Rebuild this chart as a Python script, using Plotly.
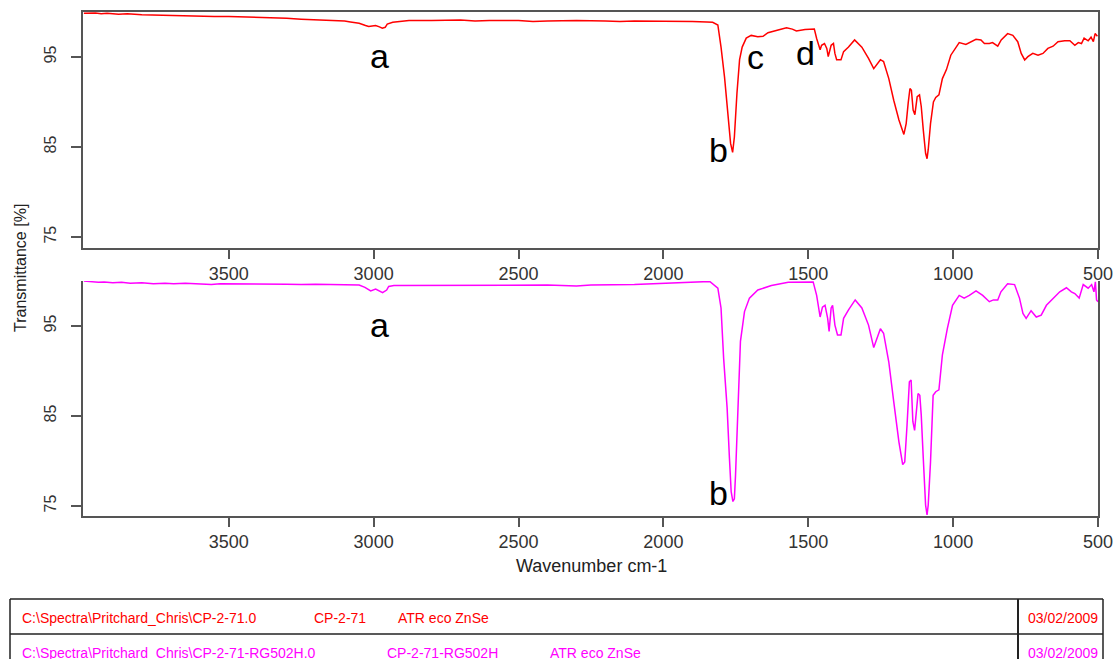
import plotly.graph_objects as go

# ---- FTIR spectra: wavenumber (cm-1) and transmittance (%) ----
wn_cp271 = [4000, 3960, 3940, 3920, 3880, 3850, 3800, 3750, 3700, 3650, 3600, 3550,
            3500, 3450, 3400, 3375, 3300, 3250, 3200, 3144, 3100, 3080, 3050, 3028,
            3017, 3005, 2993, 2980, 2970, 2960, 2953, 2934, 2900, 2878, 2800, 2700,
            2650, 2600, 2500, 2450, 2400, 2300, 2200, 2150, 2100, 2000, 1950, 1900,
            1850, 1830, 1812, 1801, 1789, 1778, 1768, 1761, 1755, 1746, 1737, 1728,
            1714, 1697, 1674, 1656, 1639, 1604, 1575, 1555, 1541, 1511, 1479, 1471,
            1459, 1454, 1444, 1436, 1431, 1421, 1413, 1408, 1402, 1387, 1378, 1361,
            1340, 1315, 1292, 1274, 1251, 1240, 1222, 1205, 1187, 1170, 1162, 1155,
            1149, 1144, 1138, 1132, 1124, 1116, 1110, 1103, 1095, 1090, 1086, 1078,
            1068, 1060, 1049, 1037, 1023, 1008, 991, 979, 956, 921, 904, 892, 875,
            864, 846, 834, 812, 794, 777, 765, 753, 742, 725, 707, 690, 673, 655,
            638, 615, 597, 580, 568, 557, 548, 534, 524, 516, 510, 502]
t_cp271 = [99.85, 99.9, 99.8, 99.85, 99.75, 99.8, 99.7, 99.65, 99.6, 99.6, 99.55, 99.5,
           99.5, 99.45, 99.45, 99.4, 99.3, 99.2, 99.15, 99.1, 99.0, 98.9, 98.75, 98.5,
           98.4, 98.45, 98.5, 98.35, 98.2, 98.3, 98.65, 98.85, 98.95, 99.05, 99.05, 99.1,
           99.0, 99.05, 99.05, 98.95, 99.0, 99.05, 99.0, 98.95, 99.0, 99.0, 98.95, 98.95,
           98.9, 98.85, 98.56, 96.1, 92.8, 89.1, 85.4, 84.4, 86.1, 91.0, 94.7, 96.1,
           97.1, 97.4, 97.25, 97.3, 97.7, 98.0, 98.25, 98.1, 97.9, 98.05, 98.1, 97.05,
           95.8, 96.3, 96.5, 95.95, 95.05, 96.3, 96.5, 95.4, 94.7, 94.7, 95.6, 96.1,
           96.9, 96.1, 94.85, 93.7, 94.7, 94.5, 92.6, 90.2, 88.0, 86.4, 87.6, 89.9,
           91.5, 91.3, 89.1, 88.6, 90.6, 90.8, 89.5, 86.9, 84.3, 83.7, 84.7, 87.6,
           90.0, 90.5, 90.8, 92.6, 93.6, 95.2, 96.1, 96.6, 96.4, 96.97, 96.9, 96.5, 96.5,
           96.6, 96.2, 96.9, 97.6, 97.4, 96.7, 95.4, 94.67, 95.04, 95.4, 95.2, 95.4, 95.96, 96.2,
           96.7, 96.8, 96.8, 96.3, 96.6, 96.5, 97.1, 96.8, 97.2, 96.7, 97.6, 97.3]

wn_rg502h = [4000, 3980, 3950, 3930, 3900, 3870, 3840, 3800, 3760, 3720, 3690, 3650,
             3600, 3560, 3530, 3500, 3400, 3300, 3250, 3200, 3150, 3100, 3050, 3030,
             3010, 2993, 2980, 2969, 2955, 2948, 2930, 2900, 2850, 2600, 2400, 2300,
             2250, 2100, 2000, 1950, 1900, 1840, 1812, 1801, 1792, 1780, 1772, 1766,
             1760, 1755, 1751, 1743, 1734, 1720, 1703, 1674, 1627, 1569, 1483, 1471,
             1459, 1451, 1442, 1433, 1428, 1421, 1416, 1408, 1399, 1387, 1378, 1361,
             1338, 1315, 1292, 1274, 1251, 1240, 1222, 1205, 1187, 1174, 1167, 1159,
             1151, 1145, 1139, 1133, 1126, 1121, 1115, 1110, 1103, 1095, 1090, 1086,
             1078, 1069, 1060, 1049, 1037, 1020, 1002, 979, 962, 944, 921, 898, 875,
             861, 846, 835, 812, 788, 771, 759, 748, 731, 713, 696, 678, 655, 632,
             609, 592, 580, 565, 551, 534, 522, 514, 509, 505, 500]
t_rg502h = [100.0, 99.95, 99.85, 99.9, 99.8, 99.85, 99.75, 99.8, 99.7, 99.75, 99.7, 99.75,
            99.7, 99.6, 99.7, 99.7, 99.7, 99.65, 99.6, 99.65, 99.6, 99.6, 99.55, 99.3,
            98.9, 99.1, 98.9, 98.7, 99.0, 99.4, 99.5, 99.5, 99.5, 99.55, 99.55, 99.45,
            99.55, 99.6, 99.75, 99.85, 99.9, 99.95, 99.2, 97.0, 91.4, 85.9, 80.3, 76.6,
            75.5, 75.8, 78.4, 85.9, 93.3, 96.6, 98.1, 99.0, 99.5, 99.85, 99.9, 98.4,
            96.0, 97.1, 97.3, 95.85, 94.4, 97.0, 97.3, 95.1, 94.0, 94.0, 95.85, 96.8,
            97.9, 97.0, 95.1, 92.6, 94.7, 94.2, 91.0, 86.6, 82.1, 79.6, 79.9, 84.0,
            88.8, 89.0, 84.4, 83.4, 85.9, 87.5, 87.3, 85.1, 80.3, 75.1, 74.0, 75.1,
            79.9, 87.3, 87.7, 87.9, 91.8, 94.7, 97.3, 98.4, 98.1, 98.4, 98.9, 98.4, 97.7,
            97.9, 97.9, 98.8, 99.7, 99.6, 98.1, 96.4, 95.85, 96.7, 96.0, 96.2, 97.3, 98.0, 98.8,
            99.25, 98.8, 98.6, 98.1, 99.6, 99.2, 99.6, 98.8, 99.9, 97.9, 97.7]

x_ticks = [3500, 3000, 2500, 2000, 1500, 1000, 500]
y_ticks = [75, 85, 95]

# band labels: (text, wavenumber, transmittance)
bands_top = [("a", 2980, 95.1), ("b", 1810, 84.65), ("c", 1681, 95.0), ("d", 1511, 95.4)]
bands_bottom = [("a", 2980, 95.1), ("b", 1810, 76.4)]

# sample table rows
table_rows = [
    ("C:\\Spectra\\Pritchard_Chris\\CP-2-71.0", "CP-2-71", "ATR eco ZnSe", "03/02/2009"),
    ("C:\\Spectra\\Pritchard_Chris\\CP-2-71-RG502H.0", "CP-2-71-RG502H", "ATR eco ZnSe", "03/02/2009"),
]
row_colors = ["#ff0000", "#ff00ff"]

W, H = 1117, 659
FONT = "Arial, Liberation Sans, sans-serif"


def px_x(p):
    return p / W


def px_y(p):
    return 1 - p / H


fig = go.Figure()
fig.add_trace(go.Scatter(x=wn_cp271, y=t_cp271, mode="lines",
                         line=dict(color="#ff0000", width=1.5),
                         xaxis="x", yaxis="y", showlegend=False))
fig.add_trace(go.Scatter(x=wn_rg502h, y=t_rg502h, mode="lines",
                         line=dict(color="#ff00ff", width=1.5),
                         xaxis="x2", yaxis="y2", showlegend=False))

# fixed margins: labels may sit at the page edge without shrinking the plot
axis_common = dict(showgrid=False, zeroline=False, showline=True, automargin=False,
                   linecolor="#555555", linewidth=1.5, ticks="outside",
                   tickcolor="#555555", tickwidth=1.5)
xfont = dict(family=FONT, size=18, color="#333333")
yfont = dict(family=FONT, size=16, color="#333333")

xdom = [px_x(83), px_x(1098)]
fig.update_layout(
    width=W, height=H, autosize=False,
    margin=dict(l=0, r=0, t=0, b=0),
    paper_bgcolor="white", plot_bgcolor="white",
    xaxis=dict(domain=xdom, range=[4003, 500], tickvals=x_ticks, ticklen=9,
               tickfont=xfont, mirror=True, anchor="y", **axis_common),
    yaxis=dict(domain=[px_y(248), px_y(12)], range=[73.78, 100.0],
               tickvals=y_ticks, ticklen=10, tickangle=-90, tickfont=yfont,
               ticklabelstandoff=9, mirror=True, anchor="x", **axis_common),
    xaxis2=dict(domain=xdom, range=[4003, 500], tickvals=x_ticks, ticklen=9,
                tickfont=xfont, mirror=False, anchor="y2", **axis_common),
    yaxis2=dict(domain=[px_y(516), px_y(281)], range=[73.89, 100.0],
                tickvals=y_ticks, ticklen=10, tickangle=-90, tickfont=yfont,
                ticklabelstandoff=9, mirror=True, anchor="x2", **axis_common),
)

ann = []
for txt, wn, t in bands_top:
    ann.append(dict(text=txt, x=wn, y=t, xref="x", yref="y", showarrow=False,
                    xanchor="center", yanchor="middle",
                    font=dict(family=FONT, size=34, color="black")))
for txt, wn, t in bands_bottom:
    ann.append(dict(text=txt, x=wn, y=t, xref="x2", yref="y2", showarrow=False,
                    xanchor="center", yanchor="middle",
                    font=dict(family=FONT, size=34, color="black")))

# axis titles
ann.append(dict(text="Wavenumber cm-1", x=px_x(591), y=px_y(566), xref="paper", yref="paper",
                xanchor="center", yanchor="middle", showarrow=False,
                font=dict(family=FONT, size=18, color="#222222")))
ann.append(dict(text="Transmittance [%]", x=px_x(20), y=px_y(268), xref="paper", yref="paper",
                xanchor="center", yanchor="middle", showarrow=False, textangle=-90,
                font=dict(family=FONT, size=16, color="#222222")))

# table text
col_x = [[20, 312, 396, 1026], [20, 385, 548, 1026]]
row_y = [618, 653]
for r, (row, color) in enumerate(zip(table_rows, row_colors)):
    for c, cell in enumerate(row):
        ann.append(dict(text=cell, x=px_x(col_x[r][c]), y=px_y(row_y[r]),
                        xref="paper", yref="paper", xanchor="left", yanchor="middle",
                        showarrow=False, font=dict(family=FONT, size=14, color=color)))

# table frame, kept inside the page
tline = dict(color="#222222", width=1.5)
right_edge = 1103
shapes = [
    dict(type="line", xref="paper", yref="paper", x0=px_x(10), x1=px_x(right_edge),
         y0=px_y(599), y1=px_y(599), line=tline),
    dict(type="line", xref="paper", yref="paper", x0=px_x(10), x1=px_x(right_edge),
         y0=px_y(634), y1=px_y(634), line=tline),
    dict(type="line", xref="paper", yref="paper", x0=px_x(10), x1=px_x(10),
         y0=0, y1=px_y(599), line=tline),
    dict(type="line", xref="paper", yref="paper", x0=px_x(right_edge), x1=px_x(right_edge),
         y0=0, y1=px_y(599), line=tline),
    dict(type="line", xref="paper", yref="paper", x0=px_x(1018), x1=px_x(1018),
         y0=0, y1=px_y(599), line=dict(color="#222222", width=2)),
]

fig.update_layout(annotations=ann, shapes=shapes)
fig.write_html(
    "out.html",
    post_script=("document.documentElement.style.overflow='hidden';"
                 "document.body.style.margin='0';"
                 "document.body.style.overflow='hidden';"),
)
